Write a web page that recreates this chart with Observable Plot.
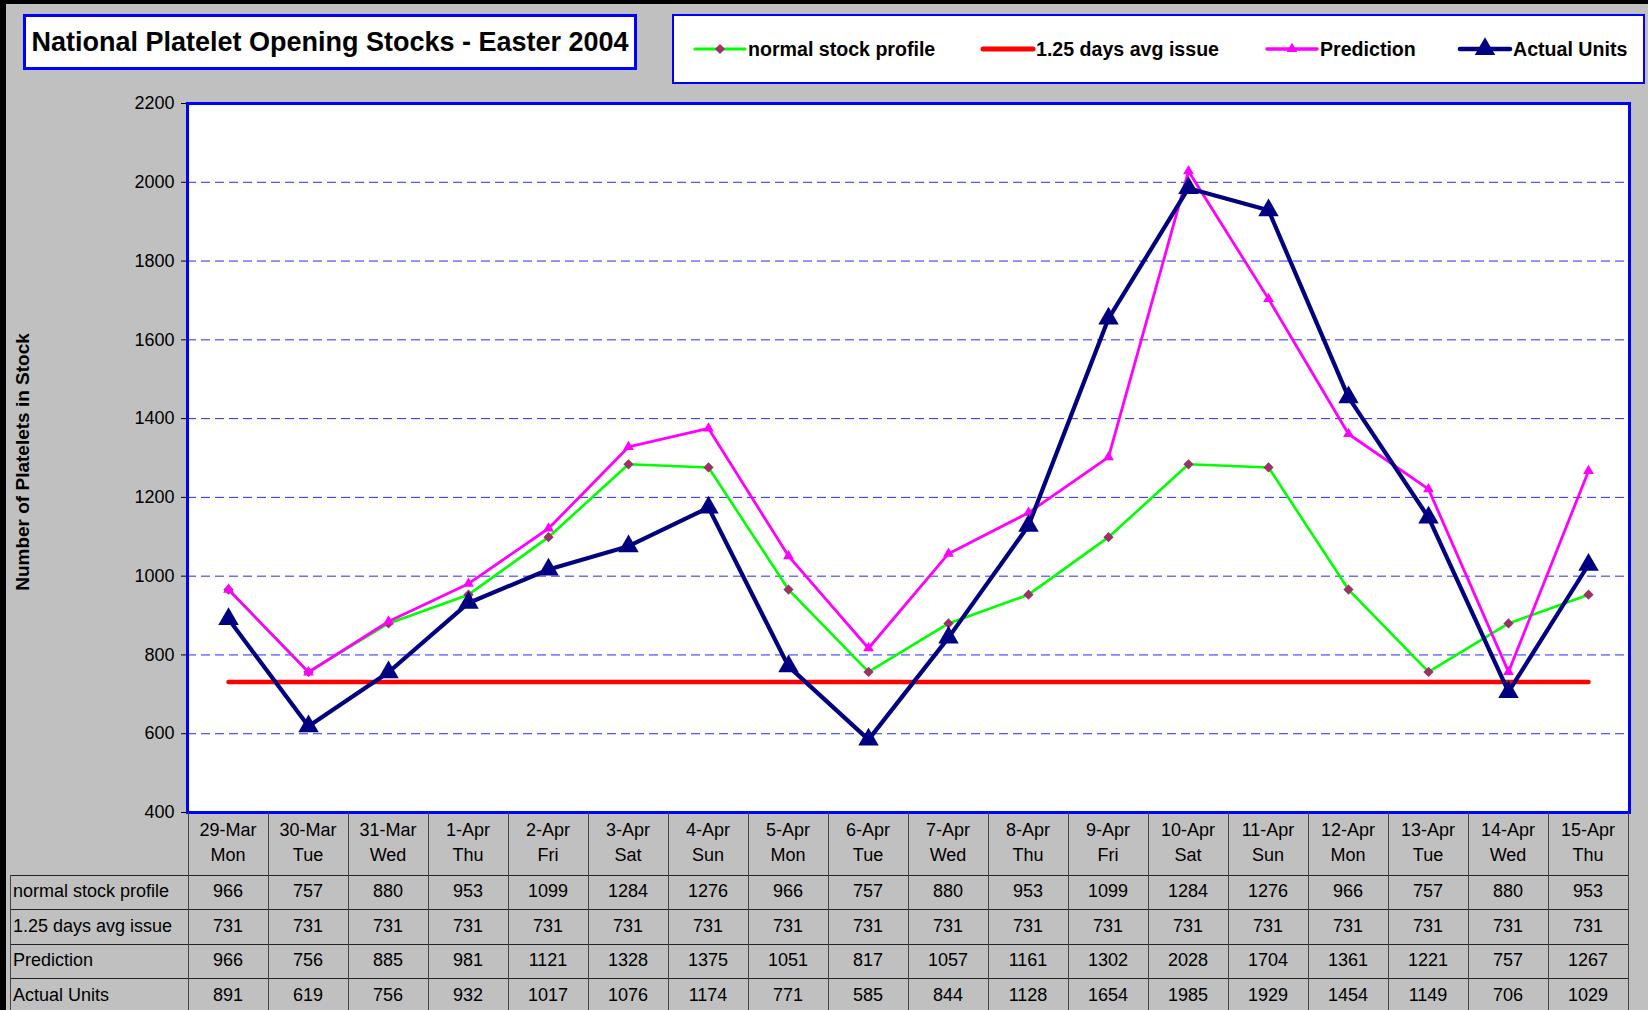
<!DOCTYPE html>
<html><head><meta charset="utf-8">
<script src="https://cdn.jsdelivr.net/npm/d3@7"></script>
<script src="https://cdn.jsdelivr.net/npm/@observablehq/plot@0.6"></script>
<style>
body{margin:0;background:#c0c0c0;}
#page{position:relative;width:1648px;height:1010px;background:#c0c0c0;overflow:hidden;font-family:"Liberation Sans",Arial,sans-serif;color:#000;}
#bt{position:absolute;left:0;top:0;width:1648px;height:4px;background:#000;z-index:5;}
#bl{position:absolute;left:0;top:0;width:6px;height:1010px;background:#000;z-index:5;}
#title{position:absolute;left:23px;top:14px;width:608px;height:50px;background:#fff;border:3px solid #0000ff;font-weight:bold;font-size:27px;display:flex;align-items:center;justify-content:center;white-space:nowrap;}
#legend{position:absolute;left:672px;top:14px;width:969px;height:66px;background:#fff;border:2px solid #0000ff;}
#chart{position:absolute;left:0;top:0;}
#ytitle{position:absolute;left:23px;top:462px;transform:translate(-50%,-50%) rotate(-90deg);font-weight:bold;font-size:19px;white-space:nowrap;}
.cell{position:absolute;display:flex;align-items:center;justify-content:center;font-size:18px;white-space:nowrap;}
.hl{position:absolute;height:1px;background:#222;}
.vl{position:absolute;width:1px;background:#444;}
</style></head>
<body>
<div id="page">
  <div id="chart"></div>
  <div id="title"></div>
  <div id="legend"></div>
  <div id="ytitle"></div>
  <div id="table"></div>
  <div id="bt"></div><div id="bl"></div>
</div>
<script>
// ---- data ----
const titleText = "National Platelet Opening Stocks - Easter 2004";
const yTitle = "Number of Platelets in Stock";
const days = ["29-Mar","30-Mar","31-Mar","1-Apr","2-Apr","3-Apr","4-Apr","5-Apr","6-Apr","7-Apr","8-Apr","9-Apr","10-Apr","11-Apr","12-Apr","13-Apr","14-Apr","15-Apr"];
const weekdays = ["Mon","Tue","Wed","Thu","Fri","Sat","Sun","Mon","Tue","Wed","Thu","Fri","Sat","Sun","Mon","Tue","Wed","Thu"];
const normalStock = [966,757,880,953,1099,1284,1276,966,757,880,953,1099,1284,1276,966,757,880,953];
const avgIssue = [731,731,731,731,731,731,731,731,731,731,731,731,731,731,731,731,731,731];
const prediction = [966,756,885,981,1121,1328,1375,1051,817,1057,1161,1302,2028,1704,1361,1221,757,1267];
const actualUnits = [891,619,756,932,1017,1076,1174,771,585,844,1128,1654,1985,1929,1454,1149,706,1029];
const seriesNames = ["normal stock profile","1.25 days avg issue","Prediction","Actual Units"];
const yTicks = [400,600,800,1000,1200,1400,1600,1800,2000,2200];

// ---- styles ----
const seriesStyle = [
  {values: normalStock, stroke:"#00ff00", width:2.6, symbol:"diamond2", r:4.6, fill:"#993366"},
  {values: avgIssue, stroke:"#ff0000", width:4.5, symbol:null},
  {values: prediction, stroke:"#ff00ff", width:2.8, symbol:"triangle", r:4, fill:"#ff00ff"},
  {values: actualUnits, stroke:"#000080", width:4.2, symbol:"triangle", r:7.6, fill:"#000080"}
];

const rows = days.map((d,i)=>({day:d, wd:weekdays[i], v: seriesStyle.map(s=>s.values[i])}));

const marks = [
  Plot.frame({fill:"#ffffff", stroke:"none"}),
  Plot.ruleY(yTicks.slice(1,-1), {stroke:"#0000ff", strokeOpacity:0.85, strokeWidth:1, strokeDasharray:"9,5"}),
  Plot.axisY({ticks:yTicks, tickSize:6, tickPadding:7, tickFormat:d=>String(d), label:null, fontSize:18, stroke:"#000"})
];
seriesStyle.forEach((s,k)=>{
  marks.push(Plot.line(rows, {x:"day", y:d=>d.v[k], stroke:s.stroke, strokeWidth:s.width, strokeLinejoin:"round", strokeLinecap:"round"}));
  if (s.symbol) marks.push(Plot.dot(rows, {x:"day", y:d=>d.v[k], symbol:s.symbol, r:s.r, fill:s.fill, stroke:"none"}));
});
marks.push(Plot.frame({stroke:"#0000ff", strokeWidth:3}));

const chart = Plot.plot({
  width:1648, height:815,
  marginLeft:187, marginRight:19, marginTop:103, marginBottom:3,
  style:{background:"transparent", fontFamily:"Liberation Sans, Arial, sans-serif", fontSize:"18px", color:"#000", overflow:"visible"},
  x:{type:"point", domain:days, padding:0.5, axis:null},
  y:{domain:[400,2200], axis:null},
  marks
});
document.getElementById("chart").appendChild(chart);

// ---- title and axis title ----
document.getElementById("title").textContent = titleText;
document.getElementById("ytitle").textContent = yTitle;

// ---- legend ----
const legendX = [20, 308, 592, 785];
const leg = d3.select("#legend");
seriesStyle.forEach((s,k)=>{
  const g = leg.append("div").style("position","absolute").style("left", legendX[k]+"px").style("top","0px").style("height","66px")
    .style("display","flex").style("align-items","center");
  const svg = g.append("svg").attr("width",52).attr("height",24).style("overflow","visible");
  svg.append("line").attr("x1",1).attr("x2",51).attr("y1",12).attr("y2",12).attr("stroke",s.stroke).attr("stroke-width",s.width+0.5).attr("stroke-linecap","round");
  if (s.symbol) {
    const sym = s.symbol === "diamond2" ? d3.symbolDiamond2 : d3.symbolTriangle;
    svg.append("path").attr("transform","translate(26,12)").attr("d", d3.symbol(sym, Math.PI*s.r*s.r)()).attr("fill", s.fill);
  }
  g.append("span").text(seriesNames[k]).style("font-weight","bold").style("font-size","19.6px").style("margin-left","2px");
});

// ---- data table, columns aligned with Plot's x scale ----
const xs = chart.scale("x");
const cx = days.map(d=>xs.apply(d));
const half = (cx[1]-cx[0])/2;
const tbl = d3.select("#table");
const top0 = 812, hdrH = 62.5, rowH = 34.6, leftX = 10;
const rightX = cx[cx.length-1]+half;
const bottom = 1010;
// header
rows.forEach((r,i)=>{
  tbl.append("div").attr("class","cell").style("left",(cx[i]-half)+"px").style("width",(2*half)+"px")
    .style("top",(top0+4)+"px").style("height","28px").text(r.day);
  tbl.append("div").attr("class","cell").style("left",(cx[i]-half)+"px").style("width",(2*half)+"px")
    .style("top",(top0+29)+"px").style("height","28px").text(r.wd);
});
// body rows
seriesNames.forEach((name,k)=>{
  const y = top0+hdrH+k*rowH;
  tbl.append("div").attr("class","cell").style("left",(leftX+3)+"px").style("justify-content","flex-start")
    .style("top",y+"px").style("height",rowH+"px").text(name);
  rows.forEach((r,i)=>{
    tbl.append("div").attr("class","cell").style("left",(cx[i]-half)+"px").style("width",(2*half)+"px")
      .style("top",y+"px").style("height",rowH+"px").text(r.v[k]);
  });
  tbl.append("div").attr("class","hl").style("left",leftX+"px").style("width",(rightX-leftX)+"px").style("top",Math.round(y)+"px");
});
// vertical lines
cx.forEach((c,i)=>{
  tbl.append("div").attr("class","vl").style("left",Math.round(c-half)+"px").style("top",top0+"px").style("height",(bottom-top0)+"px");
});
tbl.append("div").attr("class","vl").style("left",Math.round(rightX)+"px").style("top",top0+"px").style("height",(bottom-top0)+"px");
tbl.append("div").attr("class","vl").style("left",leftX+"px").style("top",(top0+hdrH)+"px").style("height",(bottom-top0-hdrH)+"px");
</script>
</body></html>
